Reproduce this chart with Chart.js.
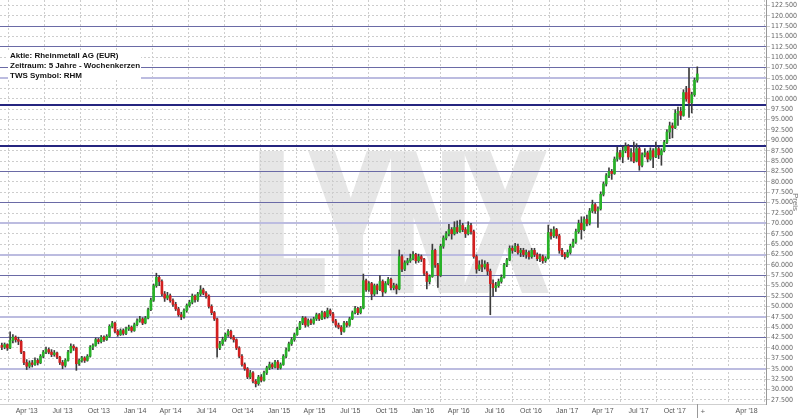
<!DOCTYPE html>
<html>
<head>
<meta charset="utf-8">
<title>Rheinmetall AG - Wochenkerzen</title>
<script src="https://cdn.jsdelivr.net/npm/chart.js@4"></script>
<style>
  html,body{margin:0;padding:0;background:#fff;}
  #wrap{width:800px;height:418px;position:relative;}
</style>
</head>
<body>
<div id="wrap"><canvas id="chart"></canvas></div>
<script>
/* DATA - weekly candles, week 0 = 28 Jan 2013 */
const firstWeek = "2013-01-28";

const opens = [
  40.6,40.2,40.8,40.0,41.8,42.6,42.0,41.6,39.0,36.5,
  35.6,36.4,36.0,37.0,36.4,38.0,39.0,39.6,39.0,38.4,
  38.8,37.8,36.5,35.8,37.0,39.0,40.4,40.0,36.2,37.0,
  37.6,37.0,38.0,40.2,40.6,42.0,41.5,42.6,42.0,42.8,
  45.2,46.0,44.0,43.2,44.2,43.5,44.6,45.0,44.2,45.6,
  46.5,47.0,46.0,47.2,49.2,51.5,55.0,57.0,56.0,53.0,
  52.0,52.6,51.4,50.5,49.4,48.0,47.5,49.0,50.2,51.0,
  52.5,51.6,53.0,54.0,53.2,52.5,50.0,48.5,47.0,40.0,
  41.0,42.0,43.2,44.0,42.6,42.0,40.0,38.0,36.0,35.0,
  33.0,34.0,32.0,31.4,33.0,32.2,34.0,35.2,36.0,35.4,
  36.6,35.2,36.0,38.0,39.5,41.0,42.0,43.2,44.6,46.0,
  47.2,45.5,46.6,46.0,47.0,48.0,47.0,48.5,47.5,49.0,
  48.2,46.5,45.5,45.0,44.0,46.0,45.5,47.0,48.5,49.5,
  48.5,49.6,56.2,54.0,55.5,53.0,55.0,54.0,56.0,53.5,
  55.5,56.5,54.5,55.0,54.2,62.0,59.0,60.5,61.0,61.5,
  62.5,61.0,62.0,61.4,58.0,56.0,57.2,63.5,60.0,57.5,
  64.5,66.5,67.5,68.5,67.5,69.0,68.0,69.5,68.5,67.5,
  69.5,68.0,62.0,59.0,60.0,59.5,60.2,58.5,55.5,54.5,
  55.0,56.0,57.0,60.0,61.2,64.0,63.5,64.5,63.0,63.5,
  62.5,63.0,62.0,63.5,62.5,61.5,62.0,61.0,61.6,67.8,
  67.0,68.5,67.0,63.5,62.5,62.0,63.0,64.5,65.5,68.0,
  70.0,68.5,71.0,70.0,73.0,74.5,73.0,73.5,77.0,79.5,
  81.5,82.5,82.0,85.5,87.0,86.0,87.5,88.5,86.0,87.0,
  85.0,88.0,84.0,86.5,87.0,85.5,87.5,86.0,88.0,86.5,
  87.5,89.5,92.0,93.5,93.0,96.5,97.0,96.0,101.5,102.5,
  99.0,101.0,104.5
];
const highs = [
  41.2,41.2,41.0,43.9,43.2,42.9,42.6,41.9,39.2,37.2,
  36.9,37.0,37.6,37.4,38.4,39.4,40.2,40.0,39.6,39.4,
  39.0,38.0,37.0,37.4,39.4,41.0,40.8,40.2,37.4,38.0,
  37.9,38.4,40.6,41.0,42.4,42.3,43.0,42.9,43.2,45.6,
  46.4,46.2,44.4,44.6,44.6,45.0,45.5,45.3,46.0,47.0,
  47.6,47.3,47.6,49.6,52.0,55.4,58.0,57.4,56.4,53.6,
  53.4,53.0,51.8,51.0,49.8,48.6,49.4,50.6,51.5,53.0,
  52.8,53.4,55.0,54.4,53.6,52.8,50.4,48.8,47.2,41.6,
  42.6,43.6,44.4,44.3,43.0,42.2,40.3,38.4,36.4,35.3,
  34.6,34.3,32.4,33.4,33.6,34.4,35.6,36.6,36.4,37.0,
  37.0,36.4,38.4,40.0,41.4,42.5,43.6,45.0,46.4,47.6,
  47.5,47.0,47.0,47.4,48.4,48.3,48.9,48.8,49.6,49.4,
  48.6,46.9,46.0,45.4,46.4,46.4,47.4,48.9,50.0,49.8,
  50.0,57.8,56.6,56.0,55.8,55.4,55.4,57.4,56.4,56.0,
  57.0,56.8,55.6,55.4,63.6,62.4,61.0,61.6,62.6,63.2,
  62.8,62.6,62.4,61.6,58.4,57.6,65.0,63.8,60.4,65.0,
  67.0,68.0,69.8,69.0,70.4,70.6,70.8,70.0,69.0,70.4,
  70.0,68.4,62.4,61.0,61.2,61.0,60.6,59.0,56.4,55.8,
  56.6,57.6,60.4,61.6,64.6,64.6,65.2,65.0,64.0,64.0,
  63.6,63.4,64.0,64.0,62.9,62.6,62.4,62.0,69.6,68.6,
  69.2,68.8,67.4,64.0,63.0,63.6,65.0,66.2,68.6,70.8,
  71.6,71.6,72.0,73.6,75.6,74.8,74.0,77.6,80.0,82.0,
  83.4,83.0,86.0,88.4,87.6,88.6,89.4,89.0,88.0,89.6,
  89.2,88.4,87.0,88.0,87.4,88.2,88.0,89.6,88.4,88.0,
  90.0,92.6,94.4,94.2,97.4,98.0,98.0,102.2,103.0,107.4,
  101.6,105.0,107.7
];
const lows = [
  39.6,39.8,39.4,39.8,41.2,41.4,40.8,38.6,36.0,34.8,
  35.2,35.4,35.8,35.9,36.2,37.6,38.6,38.6,37.9,38.0,
  37.4,36.0,35.0,35.4,36.8,38.8,39.4,34.6,35.8,36.6,
  36.5,36.8,37.8,39.6,40.4,41.0,41.2,41.6,41.8,42.6,
  44.8,43.6,42.8,43.0,43.1,43.2,44.2,43.8,44.0,45.3,
  46.2,45.6,45.8,47.0,49.0,51.2,54.6,55.0,52.6,51.2,
  51.6,51.0,50.0,49.0,47.6,46.8,47.2,48.6,49.8,50.6,
  51.0,51.2,52.6,52.8,52.0,49.6,48.0,46.6,37.8,39.6,
  40.6,41.6,42.8,42.2,41.4,39.6,37.6,35.6,34.6,32.6,
  32.6,31.6,30.6,31.0,31.8,32.0,33.6,34.8,35.0,35.2,
  34.8,34.9,35.8,37.6,39.2,40.6,41.6,43.0,44.4,45.6,
  45.0,45.2,45.6,45.7,46.6,46.6,46.8,47.0,47.2,47.8,
  46.0,45.0,44.6,43.2,43.8,45.0,45.2,46.8,48.2,48.0,
  48.2,49.4,53.6,53.6,51.6,52.6,53.0,53.8,52.4,53.2,
  55.2,54.0,54.0,53.0,54.0,58.4,58.6,60.0,60.6,61.2,
  60.4,60.6,60.8,57.4,54.2,55.4,57.0,59.4,54.6,57.2,
  64.0,66.0,67.0,66.2,67.2,67.6,67.8,68.0,66.6,67.2,
  67.4,61.6,58.0,58.6,58.4,59.0,57.6,48.0,52.4,53.6,
  54.6,55.6,56.8,59.6,61.0,62.8,63.2,62.6,62.0,62.0,
  61.6,61.4,61.6,62.0,61.0,60.8,60.4,60.6,61.4,66.2,
  66.6,66.4,62.8,62.0,61.4,61.8,62.6,64.2,65.2,67.6,
  66.2,68.2,69.4,69.6,72.6,72.4,69.0,73.2,76.6,79.0,
  81.0,80.6,81.8,85.0,85.4,84.6,87.0,85.4,85.0,84.6,
  84.8,82.8,83.6,86.0,84.8,85.2,83.4,85.8,85.6,84.0,
  87.2,89.2,90.4,90.6,92.8,93.6,95.0,95.8,99.4,95.5,
  96.6,100.6,104.0
];
const closes = [
  40.2,40.8,40.0,41.8,42.6,42.0,41.6,39.0,36.5,35.6,
  36.4,36.0,37.0,36.4,38.0,39.0,39.6,39.0,38.4,38.8,
  37.8,36.5,35.8,37.0,39.0,40.4,40.0,36.2,37.0,37.6,
  37.0,38.0,40.2,40.6,42.0,41.5,42.6,42.0,42.8,45.2,
  46.0,44.0,43.2,44.2,43.5,44.6,45.0,44.2,45.6,46.5,
  47.0,46.0,47.2,49.2,51.5,55.0,57.0,56.0,53.0,52.0,
  52.6,51.4,50.5,49.4,48.0,47.5,49.0,50.2,51.0,52.5,
  51.6,53.0,54.0,53.2,52.5,50.0,48.5,47.0,40.0,41.0,
  42.0,43.2,44.0,42.6,42.0,40.0,38.0,36.0,35.0,33.0,
  34.0,32.0,31.4,33.0,32.2,34.0,35.2,36.0,35.4,36.6,
  35.2,36.0,38.0,39.5,41.0,42.0,43.2,44.6,46.0,47.2,
  45.5,46.6,46.0,47.0,48.0,47.0,48.5,47.5,49.0,48.2,
  46.5,45.5,45.0,44.0,46.0,45.5,47.0,48.5,49.5,48.5,
  49.6,56.2,54.0,55.5,53.0,55.0,54.0,56.0,53.5,55.5,
  56.5,54.5,55.0,54.2,62.0,59.0,60.5,61.0,61.5,62.5,
  61.0,62.0,61.4,58.0,56.0,57.2,63.5,60.0,57.5,64.5,
  66.5,67.5,68.5,67.5,69.0,68.0,69.5,68.5,67.5,69.5,
  68.0,62.0,59.0,60.0,59.5,60.2,58.5,55.5,54.5,55.0,
  56.0,57.0,60.0,61.2,64.0,63.5,64.5,63.0,63.5,62.5,
  63.0,62.0,63.5,62.5,61.5,62.0,61.0,61.6,67.8,67.0,
  68.5,67.0,63.5,62.5,62.0,63.0,64.5,65.5,68.0,70.0,
  68.5,71.0,70.0,73.0,74.5,73.0,73.5,77.0,79.5,81.5,
  82.5,82.0,85.5,87.0,86.0,87.5,88.5,86.0,87.0,85.0,
  88.0,84.0,86.5,87.0,85.5,87.5,86.0,88.0,86.5,87.5,
  89.5,92.0,93.5,93.0,96.5,97.0,96.0,101.5,100.0,99.0,
  101.0,104.5,106.0
];

/* AXES */
const xTickDates = ["2013-04-01","2013-07-01","2013-10-01","2014-01-01","2014-04-01","2014-07-01",
  "2014-10-01","2015-01-01","2015-04-01","2015-07-01","2015-10-01","2016-01-01","2016-04-01",
  "2016-07-01","2016-10-01","2017-01-01","2017-04-01","2017-07-01","2017-10-01","2018-01-01","2018-04-01"];
const xTickLabels = ["Apr '13","Jul '13","Oct '13","Jan '14","Apr '14","Jul '14","Oct '14","Jan '15",
  "Apr '15","Jul '15","Oct '15","Jan '16","Apr '16","Jul '16","Oct '16","Jan '17","Apr '17","Jul '17",
  "Oct '17","","Apr '18"];
const yTicks = [27.5,30,32.5,35,37.5,40,42.5,45,47.5,50,52.5,55,57.5,60,62.5,65,67.5,70,72.5,75,
  77.5,80,82.5,85,87.5,90,92.5,95,97.5,100,102.5,105,107.5,110,112.5,115,117.5,120,122.5];

/* horizontal marks */
const darkLevels  = [98.4, 88.6];
const midLevels   = [117.5, 112.5, 107.5, 82.5, 75, 57.5, 52.5, 42.5];
const lightLevels = [105, 70, 62.5, 47.5, 35];

const infoLines = ["Aktie: Rheinmetall AG (EUR)", "Zeitraum: 5 Jahre - Wochenkerzen", "TWS Symbol: RHM"];

/* UTILS */
const weekOf = (d)=> (Date.parse(d) - Date.parse(firstWeek)) / 6048e5;
const FONT = "'Liberation Sans', Arial, sans-serif";
const NARROW = "'Liberation Sans Narrow', 'DejaVu Sans Condensed', 'Liberation Sans', sans-serif";
// same pixel snapping as the chart grid
const snap = (p, w)=> Math.round(p - w/2) + w/2;

const overlay = {
  id: "overlay",
  beforeDraw(chart){
    // LYNX watermark behind the grid
    const ctx = chart.ctx;
    ctx.save();
    ctx.fillStyle = "#e6e6e6";
    ctx.strokeStyle = "#e6e6e6";
    ctx.font = "bold 185px " + FONT;
    const w = ctx.measureText("LYNX").width;
    ctx.translate(256, 286);
    ctx.scale(286 / w, 1);
    ctx.lineWidth = 14;
    ctx.fillText("LYNX", 0, 0);
    ctx.strokeText("LYNX", 0, 0);
    ctx.restore();
  },
  beforeDatasetsDraw(chart){
    const {ctx, chartArea:a, scales:{y}} = chart;
    const line = (v, color, width)=>{
      const py = snap(y.getPixelForValue(v), width);
      ctx.strokeStyle = color; ctx.lineWidth = width;
      ctx.beginPath(); ctx.moveTo(a.left, py); ctx.lineTo(a.right, py); ctx.stroke();
    };
    ctx.save();
    lightLevels.forEach(v=>line(v, "#bcbce0", 2));
    midLevels.forEach(v=>line(v, "#6a6aa6", 1));
    darkLevels.forEach(v=>line(v, "#25257f", 2));
    ctx.restore();
  },
  afterDraw(chart){
    const {ctx, scales:{x}, chartArea:a} = chart;
    ctx.save();
    // info box
    ctx.fillStyle = "#fff";
    ctx.fillRect(8, 50, 133, 30);
    ctx.fillStyle = "#111";
    ctx.font = "bold 8px " + FONT;
    ctx.textBaseline = "middle";
    infoLines.forEach((t,i)=>ctx.fillText(t, 10, 56 + i*10));
    // current marker
    const px = snap(x.getPixelForValue(closes.length - 1), 1);
    ctx.strokeStyle = "#999"; ctx.lineWidth = 1;
    ctx.beginPath(); ctx.moveTo(px, a.bottom); ctx.lineTo(px, 418); ctx.stroke();
    ctx.fillStyle = "#666";
    ctx.font = "8px " + FONT;
    ctx.fillText("+", px + 3, 412);
    ctx.restore();
  }
};

/* CHART */
new Chart(document.getElementById("chart"), {
  type: "bar",
  data: {
    datasets: [
      {
        label: "Docht",
        data: highs.map((h,i)=>({ x:i, y:[lows[i], h] })),
        backgroundColor: "#3c3c3c",
        barThickness: 1,
        grouped: false,
        order: 2
      },
      {
        label: "Kerze",
        data: opens.map((o,i)=>({ x:i, y:[o, closes[i]] })),
        backgroundColor: closes.map((c,i)=> c >= opens[i] ? "#27b227" : "#d21f1f"),
        barThickness: 2,
        minBarLength: 1,
        grouped: false,
        order: 1
      }
    ]
  },
  options: {
    responsive: true,
    maintainAspectRatio: false,
    animation: false,
    layout: { padding: 0 },
    plugins: { legend:{ display:false }, tooltip:{ enabled:false } },
    scales: {
      x: {
        type: "linear",
        min: -0.67, max: 276.9,
        offset: false,
        afterBuildTicks: s=>{ s.ticks = xTickDates.map(d=>({ value: weekOf(d) })); },
        afterFit: s=>{ s.height = 14; s.paddingLeft = 0; s.paddingRight = 0; },
        ticks: { autoSkip:false, maxRotation:0, padding:3, color:"#555", font:{ size:7, family:FONT },
                 callback:(v,i)=>xTickLabels[i] },
        grid: { color:"#cdcdcd", drawTicks:false },
        border: { display:true, color:"#cfcfcf", dash:[2,2] }
      },
      y: {
        position: "right",
        min: 26.5, max: 123.8,
        afterBuildTicks: s=>{ s.ticks = yTicks.map(v=>({ value:v })); },
        afterFit: s=>{ s.width = 34; s.paddingTop = 0; s.paddingBottom = 0; },
        ticks: { autoSkip:false, padding:1, color:"#666", font:{ size:7, family:NARROW }, callback:v=>v.toFixed(3) },
        grid: { color:"#cdcdcd", tickLength:4 },
        border: { display:true, color:"#999", dash:[2,2] },
        title: { display:true, text:"Preis", color:"#777", font:{ size:8, family:FONT }, padding:{ top:0, bottom:4 } }
      }
    }
  },
  plugins: [overlay]
});
</script>
</body>
</html>
